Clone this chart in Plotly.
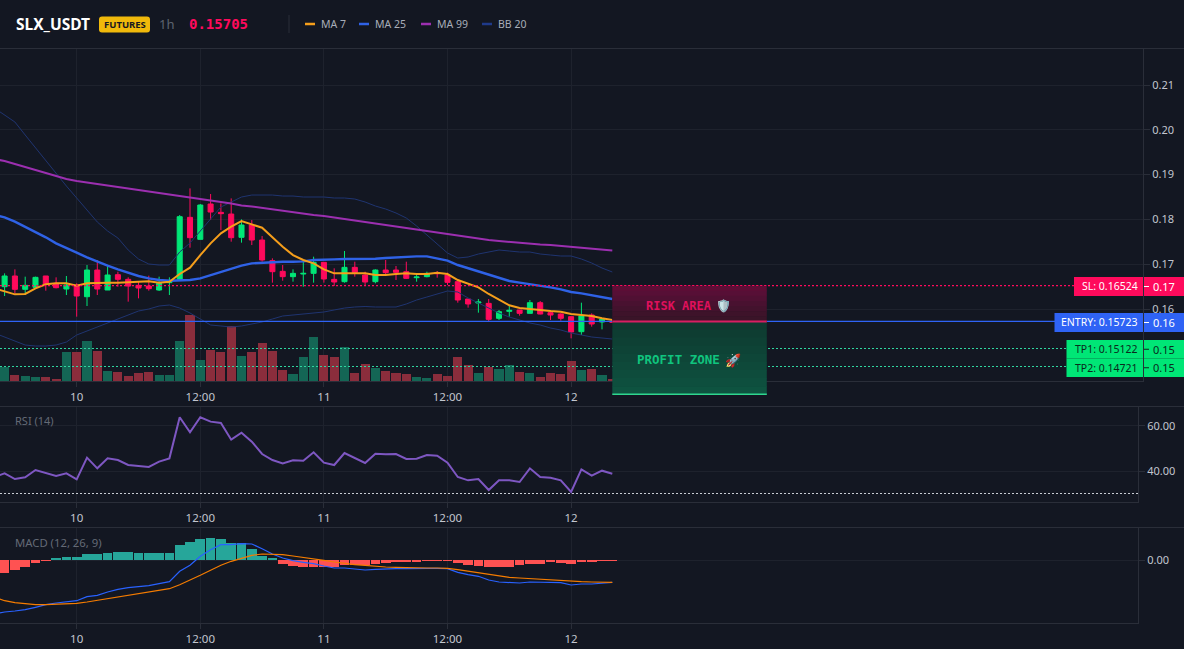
import plotly.graph_objects as go

# Hours counted from midnight on the 10th; one candle per hour.
hours = list(range(-8, 53))

opens = [.16420, .16498, .16737, .16439, .16484, .16737, .16573, .16446, .16536, .16275, .16870, .16424, .16766, .16662, .16528, .16513,
         .16424, .16588, .16662, .18046, .17555, .18344, .18158, .18120, .17600, .17875, .17540, .17079, .16841, .16722, .16781,
         .16796, .17042, .16662, .16610, .16930, .16759, .16610, .16870, .16870, .16833, .16699, .16722, .16811, .16759, .16610,
         .16223, .16134, .16126, .15792, .15948, .15978, .15903, .16141, .15918, .15888, .15829, .15494, .15866, .15710, .15723]
highs = [.16600, .16796, .16885, .16722, .16722, .16737, .16707, .16737, .16573, .16982, .17094, .16982, .16833, .16707, .16610, .16744,
         .16722, .16707, .18098, .18693, .18344, .18567, .18358, .18470, .18001, .17986, .17629, .17131, .16982, .16885, .17056,
         .17168, .17042, .16908, .17295, .17056, .16833, .16885, .17094, .16960, .17056, .16759, .16833, .16848, .16811, .16647,
         .16223, .16223, .16223, .15978, .16067, .15978, .16201, .16179, .15978, .15903, .15829, .16141, .15903, .15792, .15740]
lows = [.16300, .16290, .16350, .16312, .16484, .16409, .16461, .16312, .15829, .16067, .16312, .16424, .16498, .16164, .16238, .16409,
        .16402, .16312, .16662, .17369, .17555, .17986, .17763, .17503, .17481, .17428, .17056, .16588, .16632, .16610, .16498,
        .16588, .16588, .16513, .16588, .16722, .16513, .16573, .16781, .16647, .16670, .16610, .16707, .16699, .16536, .16141,
        .16030, .15918, .15717, .15754, .15829, .15851, .15903, .15881, .15754, .15740, .15345, .15420, .15606, .15546, .15690]
closes = [.16500, .16737, .16439, .16528, .16707, .16558, .16476, .16536, .16290, .16870, .16446, .16759, .16662, .16513, .16469, .16454,
          .16573, .16618, .18061, .17592, .18321, .18165, .18128, .17592, .17875, .17540, .17094, .16833, .16722, .16796, .16796,
          .17042, .16670, .16603, .16930, .16811, .16603, .16870, .16811, .16818, .16684, .16714, .16796, .16789, .16595, .16201,
          .16112, .16156, .15769, .15940, .15970, .15903, .16141, .15888, .15866, .15792, .15487, .15844, .15665, .15769, .15705]

volumes = [30, 41, 18, 15, 13, 13, 6, 88, 88, 120, 90, 31, 28, 16, 23, 28, 18, 18, 120, 198, 63, 93, 88, 166, 76, 88, 115, 90, 33, 21, 73,
           132, 78, 72, 103, 23, 50, 38, 29, 23, 20, 13, 10, 20, 15, 71, 47, 25, 41, 35, 47, 26, 25, 11, 23, 20, 59, 32, 35, 17, 7]

ma7 = [.16461, .16387, .16327, .16335, .16461, .16551, .16573, .16573, .16521, .16573, .16588, .16588, .16588, .16603, .16603, .16618,
       .16588, .16610, .16781, .16923, .17205, .17466, .17689, .17838, .17964, .17897, .17815, .17600, .17391, .17205, .17094,
       .17019, .16885, .16796, .16796, .16811, .16796, .16759, .16759, .16781, .16796, .16781, .16781, .16811, .16781, .16647,
       .16573, .16484, .16335, .16201, .16082, .16022, .16007, .15978, .15955, .15940, .15888, .15866, .15844, .15792, .15754]
ma25 = [.18098, .18046, .17949, .17838, .17726, .17600, .17466, .17354, .17257, .17153, .17056, .16967, .16885, .16811, .16737, .16684,
        .16647, .16632, .16632, .16647, .16684, .16759, .16826, .16900, .16967, .17019, .17034, .17049, .17056, .17056, .17064,
        .17094, .17109, .17109, .17116, .17116, .17116, .17123, .17138, .17153, .17168, .17176, .17176, .17131, .17079, .16982,
        .16908, .16833, .16759, .16684, .16625, .16588, .16558, .16521, .16484, .16439, .16379, .16350, .16312, .16275, .16223]
ma99 = [.19348, .19303, .19236, .19169, .19102, .19036, .18969, .18902, .18857, .18823, .18790, .18745, .18712, .18678, .18645, .18611,
        .18578, .18544, .18511, .18489, .18455, .18422, .18388, .18355, .18310, .18288, .18254, .18232, .18199, .18165, .18132,
        .18098, .18076, .18042, .18009, .17975, .17942, .17908, .17875, .17841, .17808, .17763, .17730, .17696, .17663, .17629,
        .17596, .17562, .17540, .17518, .17495, .17473, .17451, .17440, .17428, .17406, .17384, .17362, .17339, .17317, .17306]
bb_upper = [.20486, .20330, .20174, .19884, .19594, .19326, .19036, .18745, .18478, .18210, .17942, .17741, .17585, .17317, .17116, .17004,
            .16982, .16982, .17272, .17473, .17741, .18009, .18277, .18388, .18500, .18544, .18544, .18544, .18522, .18522, .18500,
            .18500, .18500, .18478, .18478, .18455, .18388, .18299, .18232, .18143, .18031, .17853, .17652, .17473, .17250, .17138,
            .17161, .17228, .17272, .17317, .17295, .17272, .17272, .17228, .17205, .17183, .17183, .17116, .17027, .16915, .16826]
bb_lower = [.15464, .15375, .15286, .15196, .15174, .15174, .15196, .15263, .15420, .15509, .15598, .15688, .15777, .15866, .15955, .16000,
            .16067, .16089, .16022, .15911, .15777, .15643, .15621, .15598, .15621, .15665, .15710, .15777, .15844, .15866, .15888,
            .15911, .15933, .15978, .16022, .16045, .16056, .16045, .16045, .16045, .16112, .16201, .16268, .16335, .16402, .16379,
            .16246, .16134, .16022, .15911, .15821, .15754, .15688, .15643, .15576, .15531, .15464, .15420, .15375, .15353, .15330]

rsi = [37.35, 38.97, 36.46, 37.20, 40.44, 39.12, 37.79, 38.97, 36.31, 45.90, 41.18, 45.60, 44.87, 42.65, 42.36, 41.77,
       44.13, 45.60, 63.75, 57.10, 63.75, 61.83, 61.24, 53.86, 56.96, 52.98, 47.52, 44.87, 43.39, 44.72, 44.57,
       48.26, 43.69, 42.65, 47.96, 45.90, 43.54, 47.67, 47.37, 47.52, 45.31, 45.46, 47.08, 46.78, 43.69, 37.35,
       35.87, 36.46, 31.59, 35.87, 35.87, 35.13, 41.18, 37.35, 37.05, 35.87, 30.71, 40.74, 37.94, 40.15, 38.82]

macd_hist = [-.0015, -.0013, -.00097, -.0007, -.00027, -.00007, .00013, .00033, .00033, .00063, .00063, .00073, .00083, .00083, .00073, .00073,
             .00073, .00073, .00153, .00177, .00213, .00223, .00213, .00173, .0017, .00113, .00043, .00013, -.0004, -.0006, -.0007,
             -.0007, -.0007, -.00067, -.00053, -.0005, -.00047, -.0004, -.00027, -.00017, -.00017, -.00017, -.00007, -.00007, -.00007, -.00027,
             -.00047, -.00057, -.00067, -.00067, -.00067, -.00053, -.00037, -.00037, -.00023, -.00027, -.00037, -.00013, -.00017, -.00007, -.00003]
macd_line = [-.0054, -.0052, -.0051, -.00497, -.00473, -.00447, -.0043, -.00417, -.00407, -.00367, -.00353, -.0032, -.00293, -.00277, -.00267, -.00257,
             -.00237, -.00217, -.00113, -.00053, .00037, .00103, .00153, .00153, .00163, .0016, .00113, .0006, .0002, -.00007, -.00023,
             -.00037, -.0006, -.0008, -.0008, -.00087, -.001, -.00093, -.00087, -.00087, -.00087, -.00083, -.00083, -.00083, -.00087, -.00123,
             -.00147, -.00163, -.002, -.0022, -.00227, -.0023, -.0022, -.0022, -.00223, -.00227, -.0025, -.0024, -.0024, -.0023, -.00223]
macd_signal = [-.00373, -.00407, -.00427, -.0044, -.00447, -.00447, -.00443, -.0044, -.00433, -.0042, -.00403, -.00387, -.0037, -.00353, -.00337, -.0032,
               -.00303, -.00287, -.00247, -.00203, -.00153, -.00103, -.00053, -.00013, .0002, .00047, .0006, .0006, .00053, .0004, .00027,
               .00013, -.00003, -.0002, -.00037, -.00047, -.00053, -.00063, -.0007, -.00073, -.00077, -.00077, -.0008, -.0008, -.00083, -.00097,
               -.00113, -.0013, -.00147, -.00163, -.00173, -.0018, -.00187, -.00193, -.002, -.00207, -.00213, -.00217, -.0022, -.00223, -.00223]

time_ticks = [0, 12, 24, 36, 48]
time_labels = ["10", "12:00", "11", "12:00", "12"]
price_ticks = [.16, .17, .18, .19, .20, .21]
rsi_ticks = [40, 60]

stop_loss = .16524
entry = .15723
take_profit_1 = .15122
take_profit_2 = .14721
last_price = .15705
zone_floor = .14096
zone_start_hour = 52
zone_end_hour = 67

BG = "#131722"
GRID = "#1e222d"
BORDER = "#2a2e39"
TICK_TEXT = "#c2c6cf"
UP = "#00e676"
DOWN = "#ff0a5c"
ENTRY_BLUE = "#2f63f5"
FONT = "Noto Sans"
MONO = "DejaVu Sans Mono"
DOTTED = "2px,2px"

W, H = 1184, 649
PX_PER_HOUR = 10.3
ZERO_HOUR_PX = 76.7
MAIN_TOP, MAIN_BOTTOM = 49, 381
RSI_TOP, RSI_BOTTOM = 407, 502
MACD_TOP, MACD_BOTTOM = 528, 623
MAIN_RIGHT, SUB_RIGHT = 1143, 1138
PRICE_RANGE = [.14393, .21804]
VOLUME_RANGE = [0, 996]


def px(x):
    return x / W


def py(y):
    return 1 - y / H


def hour_px(hour):
    return ZERO_HOUR_PX + hour * PX_PER_HOUR


def price_px(price):
    share = (price - PRICE_RANGE[0]) / (PRICE_RANGE[1] - PRICE_RANGE[0])
    return MAIN_BOTTOM - share * (MAIN_BOTTOM - MAIN_TOP)


def crisp(y):
    # Centre a one-pixel rule on a pixel row so it stays solid.
    return int(y) + 0.5


def hour_range(right_px):
    return [(0 - ZERO_HOUR_PX) / PX_PER_HOUR, (right_px - ZERO_HOUR_PX) / PX_PER_HOUR]


fig = go.Figure()

# Main pane: volume underneath, candles and averages above it.
fig.add_bar(x=hours, y=volumes, width=0.88, xaxis="x", yaxis="y",
            marker=dict(color=["#146655" if c >= o else "#8a2d3c" for o, c in zip(opens, closes)], line_width=0))
for values, color, width in [(bb_upper, "#1f3470", 1), (bb_lower, "#1f3470", 1)]:
    fig.add_scatter(x=hours, y=values, mode="lines", xaxis="x", yaxis="y2", line=dict(color=color, width=width))
fig.add_candlestick(x=hours, open=opens, high=highs, low=lows, close=closes, xaxis="x", yaxis="y2",
                    increasing=dict(line=dict(color=UP, width=1), fillcolor=UP),
                    decreasing=dict(line=dict(color=DOWN, width=1), fillcolor=DOWN))
for values, color, width in [(ma99, "#9c2fb0", 2), (ma25, "#2f62e6", 2.4), (ma7, "#f59e1b", 2)]:
    fig.add_scatter(x=hours, y=values, mode="lines", xaxis="x", yaxis="y2", line=dict(color=color, width=width))

# RSI pane.
fig.add_scatter(x=hours, y=rsi, mode="lines", xaxis="x2", yaxis="y3", line=dict(color="#7e57c2", width=2))

# MACD pane.
fig.add_bar(x=hours, y=macd_hist, width=0.94, xaxis="x3", yaxis="y4",
            marker=dict(color=["#26a69a" if v >= 0 else "#ff5252" for v in macd_hist], line_width=0))
fig.add_scatter(x=hours, y=macd_line, mode="lines", xaxis="x3", yaxis="y4", line=dict(color="#2962ff", width=1.2))
fig.add_scatter(x=hours, y=macd_signal, mode="lines", xaxis="x3", yaxis="y4", line=dict(color="#f57c00", width=1.2))

shapes = []
annotations = []


def rect(x0, y0, x1, y1, fill):
    shapes.append(dict(type="rect", xref="paper", yref="paper", x0=px(x0), x1=px(x1), y0=py(y0), y1=py(y1),
                       fillcolor=fill, line_width=0, layer="above"))


def hline(x0, x1, y, color, width=1, dash="solid"):
    shapes.append(dict(type="line", xref="paper", yref="paper", x0=px(x0), x1=px(x1), y0=py(y), y1=py(y),
                       line=dict(color=color, width=width, dash=dash), layer="above"))


def label(x, y, text, color, size=11, anchor="center", family=FONT):
    annotations.append(dict(xref="paper", yref="paper", x=px(x), y=py(y), text=text, showarrow=False,
                            xanchor=anchor, yanchor="middle", align=anchor, borderpad=0,
                            font=dict(color=color, size=size, family=family)))


# Pane borders that the axes do not draw themselves.
hline(0, W, 48.5, BORDER)
hline(0, W, RSI_TOP - 0.5, BORDER)
hline(0, W, MACD_TOP - 0.5, BORDER)

# Trade levels run across the pane and stop at their value boxes.
hline(0, 1074, price_px(stop_loss), DOWN, width=1.25, dash=DOTTED)
hline(0, 1055, price_px(entry), ENTRY_BLUE, width=1.25)
hline(0, 1067, crisp(price_px(take_profit_1)), "#2fd6a0", dash=DOTTED)
hline(0, 1067, crisp(price_px(take_profit_2)), "#2fd6a0", dash=DOTTED)
hline(0, SUB_RIGHT, crisp(RSI_TOP + (68.3 - 30) * (RSI_BOTTOM - RSI_TOP) / (68.3 - 26.3)), "#c8ccd4", dash=DOTTED)

# Risk and profit zones, shaded in bands from their top edge downwards.
zone_left, zone_right = hour_px(zone_start_hour), hour_px(zone_end_hour)
risk_top, risk_bottom = price_px(stop_loss), price_px(entry)
profit_bottom = price_px(zone_floor)
risk_bands = ["#5e0e36", "#570f36", "#501033", "#491130", "#43122d", "#3e132a", "#3a1428"]
profit_bands = ["#0e3a30", "#0e3d32", "#0e4034", "#0e4336", "#0e4638", "#0e493a", "#0e4c3c", "#0e4f3e", "#0e5340"]
for i, color in enumerate(risk_bands):
    step = (risk_bottom - risk_top) / len(risk_bands)
    rect(zone_left, risk_top + i * step, zone_right, risk_top + (i + 1) * step + 0.5, color)
for i, color in enumerate(profit_bands):
    step = (profit_bottom - risk_bottom) / len(profit_bands)
    rect(zone_left, risk_bottom + i * step, zone_right, risk_bottom + (i + 1) * step + 0.5, color)
hline(zone_left, zone_right, crisp(risk_top), DOWN, dash=DOTTED)
hline(zone_left, zone_right, risk_bottom, "#d81e62", width=2)
hline(zone_left, zone_right, profit_bottom, "#2fd68f", width=1.5)
label(679, 305.5, "<b>RISK AREA</b>", "#e0105c", size=12, family=MONO)
label(723, 305.5, "🛡️", "#5aa9ee", size=12)
label(678, 359.5, "<b>PROFIT ZONE</b>", "#10c47e", size=12.5, family=MONO)
label(733, 359.5, "🚀", "#e88", size=13)

# Value boxes on the right edge of the main pane.
TAG_LEFT = 1144
for text, left, top, bottom, fill, ink, axis_text in [
    (f"SL: {stop_loss:.5f}", 1074, 277, 296, DOWN, "#ffffff", f"{stop_loss:.2f}"),
    (f"ENTRY: {entry:.5f}", 1054.5, 313, 332, ENTRY_BLUE, "#ffffff", f"{entry:.2f}"),
    (f"TP1: {take_profit_1:.5f}", 1066.5, 340, 358.5, UP, "#0a2a1c", f"{take_profit_1:.2f}"),
    (f"TP2: {take_profit_2:.5f}", 1066.5, 358.5, 377, UP, "#0a2a1c", f"{take_profit_2:.2f}"),
]:
    rect(left, top, 1143, bottom, fill)
    rect(TAG_LEFT, top, W, bottom, fill)
    mid = (top + bottom) / 2
    hline(1144, 1149, mid, ink)
    label(1139, mid, text, ink, size=10.5, anchor="right")
    label(1164, mid, axis_text, ink, size=11)

# Header strip: symbol, contract badge, interval, price and line key.
label(15, 24, "<b>SLX_USDT</b>", "#ffffff", size=15.5, anchor="left")
shapes.append(dict(type="path", xref="paper", yref="paper", fillcolor="#f0b90b", line_width=0, layer="above",
                   path=(f"M {px(102)},{py(16.5)} L {px(147)},{py(16.5)} Q {px(150)},{py(16.5)} {px(150)},{py(19.5)} "
                         f"L {px(150)},{py(29.5)} Q {px(150)},{py(32.5)} {px(147)},{py(32.5)} L {px(102)},{py(32.5)} "
                         f"Q {px(99)},{py(32.5)} {px(99)},{py(29.5)} L {px(99)},{py(19.5)} Q {px(99)},{py(16.5)} {px(102)},{py(16.5)} Z")))
label(124.5, 24.5, "<b>FUTURES</b>", "#16181f", size=9.5)
label(158, 24, "1h", "#5d6470", size=13, anchor="left")
label(188, 24, f"<b>{last_price:.5f}</b>", DOWN, size=14, anchor="left", family=MONO)
shapes.append(dict(type="line", xref="paper", yref="paper", x0=px(289), x1=px(289), y0=py(15), y1=py(33),
                   line=dict(color=BORDER, width=1), layer="above"))
for left, color, name in [(305, "#f59e1b", "MA 7"), (359, "#2f62e6", "MA 25"), (421, "#9c2fb0", "MA 99"), (482, "#1f3a8a", "BB 20")]:
    hline(left, left + 10, 24, color, width=2.5)
    label(left + 15, 24, name, "#a8adb8", size=10.5, anchor="left")

label(14, 421, "RSI (14)", "#646a76", size=11, anchor="left")
label(14, 542, "MACD (12, 26, 9)", "#646a76", size=11.3, anchor="left")

x_common = dict(tickmode="array", tickvals=time_ticks, ticktext=time_labels, showgrid=True, gridcolor=GRID, gridwidth=1,
                zeroline=False, showline=True, linecolor=BORDER, linewidth=1, ticks="outside", ticklen=5, tickcolor=BORDER,
                tickfont=dict(color=TICK_TEXT, size=11.5, family=FONT), rangeslider_visible=False)
y_common = dict(side="right", showgrid=True, gridcolor=GRID, gridwidth=1, zeroline=False, showline=True, linecolor=BORDER,
                linewidth=1, ticks="outside", ticklen=6, tickcolor=BORDER, tickformat=".2f", tickmode="array",
                tickfont=dict(color=TICK_TEXT, size=11, family=FONT))

fig.update_layout(
    width=W, height=H, margin=dict(l=0, r=0, t=0, b=0), autosize=False,
    paper_bgcolor=BG, plot_bgcolor=BG, showlegend=False, hovermode=False, bargap=0,
    xaxis=dict(domain=[0, px(MAIN_RIGHT)], range=hour_range(MAIN_RIGHT), anchor="y2", **x_common),
    xaxis2=dict(domain=[0, px(SUB_RIGHT)], range=hour_range(SUB_RIGHT), anchor="y3", **x_common),
    xaxis3=dict(domain=[0, px(SUB_RIGHT)], range=hour_range(SUB_RIGHT), anchor="y4", **x_common),
    yaxis=dict(domain=[py(MAIN_BOTTOM), py(MAIN_TOP)], range=VOLUME_RANGE, visible=False, anchor="x"),
    yaxis2=dict(domain=[py(MAIN_BOTTOM), py(MAIN_TOP)], range=PRICE_RANGE, overlaying="y", tickvals=price_ticks, anchor="x", **y_common),
    yaxis3=dict(domain=[py(RSI_BOTTOM), py(RSI_TOP)], range=[26.3, 68.3], tickvals=rsi_ticks, anchor="x2", **y_common),
    yaxis4=dict(domain=[py(MACD_BOTTOM), py(MACD_TOP)], range=[-.0063, .0032], tickvals=[0], anchor="x3", **y_common),
    shapes=shapes, annotations=annotations,
)

fig.write_html("out.html", config=dict(displayModeBar=False))
